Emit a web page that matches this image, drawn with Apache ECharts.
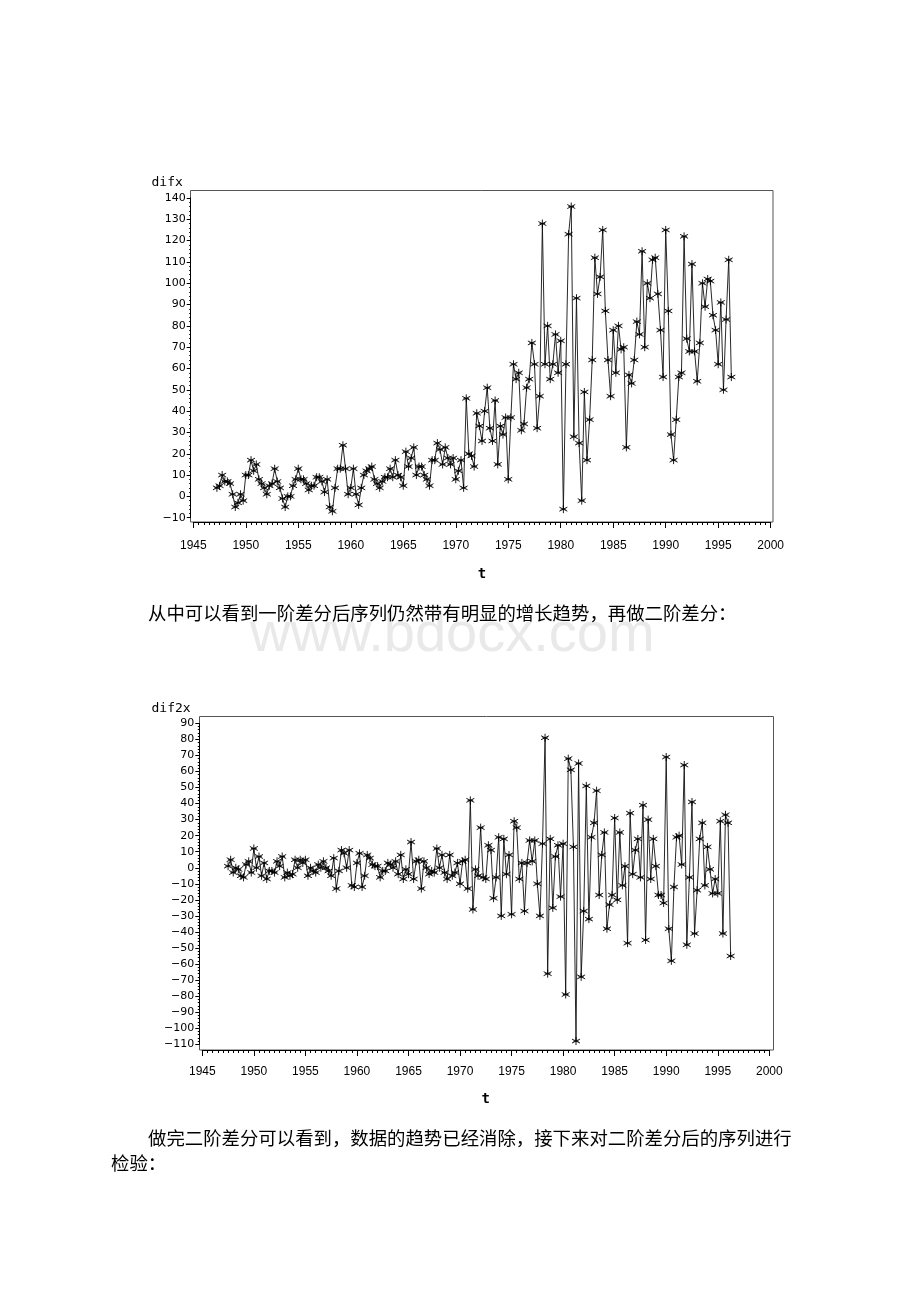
<!DOCTYPE html>
<html>
<head>
<meta charset="utf-8">
<script src="https://cdn.jsdelivr.net/npm/echarts@6/dist/echarts.min.js"></script>
<style>
html,body{margin:0;padding:0;background:#fff;}
#c{width:920px;height:1302px;}
</style>
</head>
<body>
<div id="c"></div>
<script>
// ---- data (quarterly) ----
const difxStart = 1947.25;   // first quarter shown for difx
const dif2xStart = 1947.5;   // first quarter shown for dif2x
const quarterStep = 0.25;

const difx = [
  4, 5, 10, 7, 7, 6, 1, -5, -3, 1, -2, 10, 10, 17, 12, 15, 8, 6, 4, 1,
  5, 6, 13, 7, 4, -1, -5, 0, 0, 5, 8, 13, 8, 8, 6, 3, 5, 5, 9, 9,
  7, 2, 8, -5, -7, 4, 13, 13, 24, 13, 1, 4, 13, 1, -4, 4, 10, 12, 13, 14,
  8, 6, 4, 7, 9, 9, 13, 9, 17, 10, 9, 5, 21, 14, 18, 23, 10, 14, 14, 10,
  8, 5, 17, 17, 25, 22, 15, 23, 18, 15, 18, 8, 12, 17, 4, 46, 20, 19, 14, 39,
  33, 26, 40, 51, 32, 26, 45, 15, 33, 29, 37, 8, 37, 62, 55, 58, 31, 34, 51, 55,
  72, 62, 32, 47, 128, 62, 80, 55, 62, 76, 58, 73, -6, 62, 123, 136, 28, 93, 25, -2,
  49, 17, 36, 64, 112, 95, 103, 125, 87, 64, 47, 78, 58, 80, 69, 70, 23, 57, 53, 64,
  82, 76, 115, 70, 100, 93, 111, 112, 95, 78, 56, 125, 87, 29, 17, 36, 56, 58, 122, 74,
  68, 109, 68, 54, 72, 100, 89, 102, 101, 85, 78, 62, 91, 50, 83, 111, 56
];

const dif2x = [
  1, 5, -3, 0, -1, -5, -6, 2, 4, -3, 12, 0, 7, -5, 3, -7, -2, -2, -3, 4,
  1, 7, -6, -3, -5, -4, 5, 0, 5, 3, 5, -5, 0, -2, -3, 2, 0, 4, 0, -2,
  -5, 6, -13, -2, 11, 9, 0, 11, -11, -12, 3, 9, -12, -5, 8, 6, 2, 1, 1, -6,
  -2, -2, 3, 2, 0, 4, -4, 8, -7, -1, -4, 16, -7, 4, 5, -13, 4, 0, -4, -2,
  -3, 12, 0, 8, -3, -7, 8, -5, -3, 3, -10, 4, 5, -13, 42, -26, -1, -5, 25, -6,
  -7, 14, 11, -19, -6, 19, -30, 18, -4, 8, -29, 29, 25, -7, 3, -27, 3, 17, 4, 17,
  -10, -30, 15, 81, -66, 18, -25, 7, 14, -18, 15, -79, 68, 61, 13, -108, 65, -68, -27, 51,
  -32, 19, 28, 48, -17, 8, 22, -38, -23, -17, 31, -20, 22, -11, 1, -47, 34, -4, 11, 18,
  -6, 39, -45, 30, -7, 18, 1, -17, -17, -22, 69, -38, -58, -12, 19, 20, 2, 64, -48, -6,
  41, -41, -14, 18, 28, -11, 13, -1, -16, -7, -16, 29, -41, 33, 28, -55
];

const yName1 = 'difx';
const yName2 = 'dif2x';
const xName = 't';
const text1 = '从中可以看到一阶差分后序列仍然带有明显的增长趋势，再做二阶差分：';
const text2a = '做完二阶差分可以看到，数据的趋势已经消除，接下来对二阶差分后的序列进行';
const text2b = '检验：';
const watermark = 'www.bdocx.com';

// ---- chart ----
const chart = echarts.init(document.getElementById('c'), null, {renderer: 'canvas'});

const star = 'path://M0,-5L0,5M-4.33,-2.5L4.33,2.5M-4.33,2.5L4.33,-2.5M-3,0L3,0';

function toPts(arr, start) {
  return arr.map((v, i) => [start + i * quarterStep, v]);
}
function yLabel(v) {
  return v < 0 ? '\u2212' + Math.abs(v) : String(v);
}
function xLabel(v) {
  return String(v);
}

const xAxisBase = {
  type: 'value', min: 1945, max: 2000, interval: 5,
  axisLine: {show: true, onZero: false, lineStyle: {color: '#000', width: 1}},
  axisTick: {show: true, length: 6, lineStyle: {color: '#000'}},
  minorTick: {show: true, splitNumber: 10, length: 3, lineStyle: {color: '#000'}},
  splitLine: {show: false}, minorSplitLine: {show: false},
  axisLabel: {color: '#000', fontSize: 12, formatter: xLabel,
    fontFamily: "'Liberation Sans Narrow','Liberation Sans',Arial,sans-serif"},
  name: xName, nameLocation: 'middle',
  nameTextStyle: {color: '#000', fontSize: 14, fontWeight: 'bold', fontFamily: "'DejaVu Sans Mono',monospace"}
};
const yAxisBase = {
  type: 'value', interval: 10,
  axisLine: {show: true, onZero: false, lineStyle: {color: '#000', width: 1}},
  axisTick: {show: true, length: 4, lineStyle: {color: '#000'}},
  minorTick: {show: true, splitNumber: 5, length: 1.5, lineStyle: {color: '#000'}},
  splitLine: {show: false}, minorSplitLine: {show: false},
  axisLabel: {color: '#000', fontSize: 11, margin: 5, fontFamily: "'DejaVu Sans',sans-serif", formatter: yLabel}
};
const seriesBase = {
  type: 'line', symbol: star, symbolSize: 8, showAllSymbol: true,
  lineStyle: {color: '#111', width: 0.9},
  itemStyle: {color: 'rgba(0,0,0,0)', borderColor: '#000', borderWidth: 0.9},
  emphasis: {disabled: true}, silent: true
};

const option = {
  animation: false,
  backgroundColor: '#fff',
  grid: [
    {left: 193.3, top: 198, width: 577.4, height: 319.7, containLabel: false},
    {left: 202.3, top: 723.3, width: 567, height: 321, containLabel: false}
  ],
  xAxis: [
    Object.assign({}, xAxisBase, {gridIndex: 0, offset: 4.3, nameGap: 45,
      axisLabel: Object.assign({}, xAxisBase.axisLabel, {margin: 18})}),
    Object.assign({}, xAxisBase, {gridIndex: 1, offset: 5.7, nameGap: 42,
      axisLabel: Object.assign({}, xAxisBase.axisLabel, {margin: 16})})
  ],
  yAxis: [
    Object.assign({}, yAxisBase, {gridIndex: 0, min: -10, max: 140, offset: 2.6}),
    Object.assign({}, yAxisBase, {gridIndex: 1, min: -110, max: 90, offset: 3})
  ],
  series: [
    Object.assign({}, seriesBase, {name: yName1, xAxisIndex: 0, yAxisIndex: 0, data: toPts(difx, difxStart)}),
    Object.assign({}, seriesBase, {name: yName2, xAxisIndex: 1, yAxisIndex: 1, data: toPts(dif2x, dif2xStart)})
  ],
  graphic: [
    {type: 'text', left: 250, top: 608, z: -10, silent: true,
      style: {text: watermark, fill: '#e9e9e9', font: "56px 'Liberation Sans', Arial, sans-serif"}},
    {type: 'rect', shape: {x: 190.5, y: 190.5, width: 582.5, height: 331.5}, silent: true,
      style: {fill: 'none', stroke: '#555', lineWidth: 1}},
    {type: 'rect', shape: {x: 199.5, y: 716.5, width: 574, height: 333.5}, silent: true,
      style: {fill: 'none', stroke: '#555', lineWidth: 1}},
    {type: 'text', left: 151.5, top: 176, silent: true,
      style: {text: yName1, fill: '#000', font: "13px 'DejaVu Sans Mono', monospace"}},
    {type: 'text', left: 151.5, top: 702, silent: true,
      style: {text: yName2, fill: '#000', font: "13px 'DejaVu Sans Mono', monospace"}},
    {type: 'text', left: 148, top: 604, silent: true,
      style: {text: text1, fill: '#000', font: "18.4px 'Noto Sans CJK SC', sans-serif"}},
    {type: 'text', left: 148, top: 1129, silent: true,
      style: {text: text2a, fill: '#000', font: "18.4px 'Noto Sans CJK SC', sans-serif"}},
    {type: 'text', left: 111, top: 1154, silent: true,
      style: {text: text2b, fill: '#000', font: "18.4px 'Noto Sans CJK SC', sans-serif"}}
  ]
};
chart.setOption(option);
</script>
</body>
</html>
